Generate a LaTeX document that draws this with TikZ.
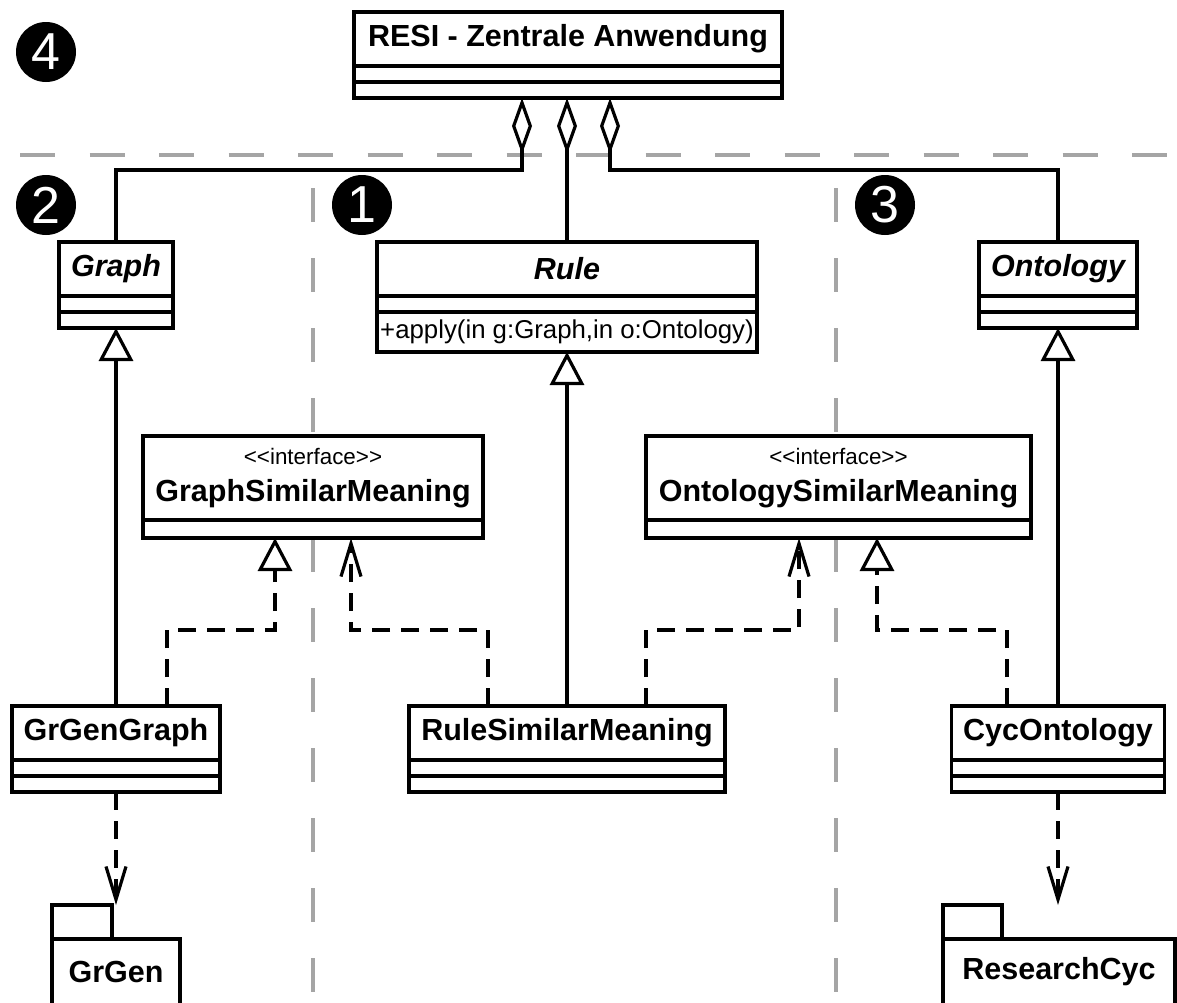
\documentclass[tikz,border=0pt]{standalone}
\usepackage{fontspec}
\setmainfont{Liberation Sans}
\usetikzlibrary{positioning,arrows.meta}
\definecolor{sepgray}{RGB}{165,165,165}

\begin{document}
\begin{tikzpicture}[x=1pt, y=-1pt, line width=3.2pt]
	\tikzstyle{classname} = [rectangle, draw, fill=white, outer sep=0pt, inner sep=0pt, minimum height=54pt, anchor=north, font=\fontsize{30.5}{37}\selectfont\bfseries]
	\tikzstyle{compart} = [rectangle, draw, fill=white, outer sep=0pt, inner sep=0pt, minimum height=16pt]
	\tikzstyle{iface} = [classname, minimum height=84pt, align=center]
	\tikzstyle{pkg} = [rectangle, draw, fill=white, outer sep=0pt, inner sep=0pt, anchor=north west, font=\fontsize{30.5}{37}\selectfont\bfseries]
	\tikzstyle{marker} = [circle, fill=black, text=white, minimum size=60pt, inner sep=0pt, font=\fontsize{52}{52}\selectfont]
	\tikzstyle{separator} = [draw=sepgray, line width=4.5pt, dash pattern=on 35pt off 34.5pt]
	\tikzstyle{assoc} = [-{Diamond[open, length=56pt, width=20pt]}]
	\tikzstyle{inherit} = [-{Triangle[open, length=33pt, width=34pt]}]
	\tikzstyle{realize} = [inherit, dash pattern=on 18pt off 11pt]
	\tikzstyle{depend} = [-{Straight Barb[length=33pt, width=20pt]}, dash pattern=on 18pt off 11pt]
	\useasboundingbox (0,0) rectangle (1177,1002);

	% areas
	\draw[separator] (20,155) -- (1167,155);
	\foreach \x in {313,836}
		\draw[separator, dash pattern=on 34pt off 36pt] (\x,188) -- (\x,1010);
	\foreach \num/\x/\y in {4/46/52, 2/46/205, 1/362/205, 3/885/205}
		\node[marker] (m\num) at (\x,\y) {\num};

	% classes
	\node[classname, minimum width=428pt] (resi) at (568,12) {RESI - Zentrale Anwendung};
	\node[classname, minimum width=114pt] (graph) at (116,242) {\itshape Graph};
	\node[classname, minimum width=380pt] (rule) at (567,242) {\itshape Rule};
	\node[classname, minimum width=158pt] (ontology) at (1058,242) {\itshape Ontology};
	\node[iface, minimum width=340pt] (graphsim) at (313,436) {{\fontsize{22.4}{27}\selectfont\mdseries <\kern0pt<interface>\kern0pt>}\\GraphSimilarMeaning};
	\node[iface, minimum width=385pt] (ontsim) at (838.5,436) {{\fontsize{22.4}{27}\selectfont\mdseries <\kern0pt<interface>\kern0pt>}\\OntologySimilarMeaning};
	\node[classname, minimum width=208pt] (grgengraph) at (116,706) {GrGenGraph};
	\node[classname, minimum width=316pt] (rulesim) at (567,706) {RuleSimilarMeaning};
	\node[classname, minimum width=213pt] (cycontology) at (1058,706) {CycOntology};
	\foreach \name/\w in {resi/428, graph/114, ontology/158, grgengraph/208, rulesim/316, cycontology/213}
	{
		\node[compart, minimum width=\w pt, below=0pt of \name] (\name-attr) {};
		\node[compart, minimum width=\w pt, below=0pt of \name-attr] (\name-ops) {};
	}
	\node[compart, minimum width=380pt, below=0pt of rule] (rule-attr) {};
	\node[compart, minimum width=380pt, minimum height=40pt, below=0pt of rule-attr, font=\fontsize{25.8}{30}\selectfont] (rule-ops) {+apply(in g:Graph,in o:Ontology)};
	\foreach \name/\w in {graphsim/340, ontsim/385}
		\node[compart, minimum width=\w pt, minimum height=18pt, below=0pt of \name] (\name-attr) {};

	% packages
	\node[pkg, minimum width=128pt, minimum height=66pt] (grgen) at (52,939) {GrGen};
	\node[pkg, minimum width=60pt, minimum height=34pt, anchor=south west] (grgen-tab) at (grgen.north west) {};
	\node[pkg, minimum width=232pt, minimum height=66pt] (researchcyc) at (943,939) {ResearchCyc};
	\node[pkg, minimum width=59pt, minimum height=34pt, anchor=south west] (researchcyc-tab) at (researchcyc.north west) {};

	% aggregation
	\draw[assoc] (graph.north) -- ++(0,-72) -| ([xshift=-46pt]resi-ops.south);
	\draw[assoc] (rule.north) -- (rule.north |- resi-ops.south);
	\draw[assoc] (ontology.north) -- ++(0,-72) -| ([xshift=42pt]resi-ops.south);
	% inheritance
	\draw[inherit] (grgengraph.north) -- (graph-ops.south);
	\draw[inherit] (rulesim.north) -- (rule-ops.south);
	\draw[inherit] (cycontology.north) -- (ontology-ops.south);
	% realization
	\draw[realize] ([xshift=51pt]grgengraph.north) -- ++(0,-76) -| ([xshift=-38pt]graphsim-attr.south);
	\draw[realize] ([xshift=-51pt]cycontology.north) -- ++(0,-76) -| ([xshift=38.5pt]ontsim-attr.south);
	% dependency
	\draw[depend] ([xshift=-79pt]rulesim.north) -- ++(0,-76) -| ([xshift=38pt]graphsim-attr.south);
	\draw[depend] ([xshift=79pt]rulesim.north) -- ++(0,-76) -| ([xshift=-39.5pt]ontsim-attr.south);
	\draw[depend] (grgengraph-ops.south) -- (grgengraph-ops.south |- grgen-tab.north);
	\draw[depend] (cycontology-ops.south) -- (cycontology-ops.south |- researchcyc-tab.north);
\end{tikzpicture}
\end{document}
